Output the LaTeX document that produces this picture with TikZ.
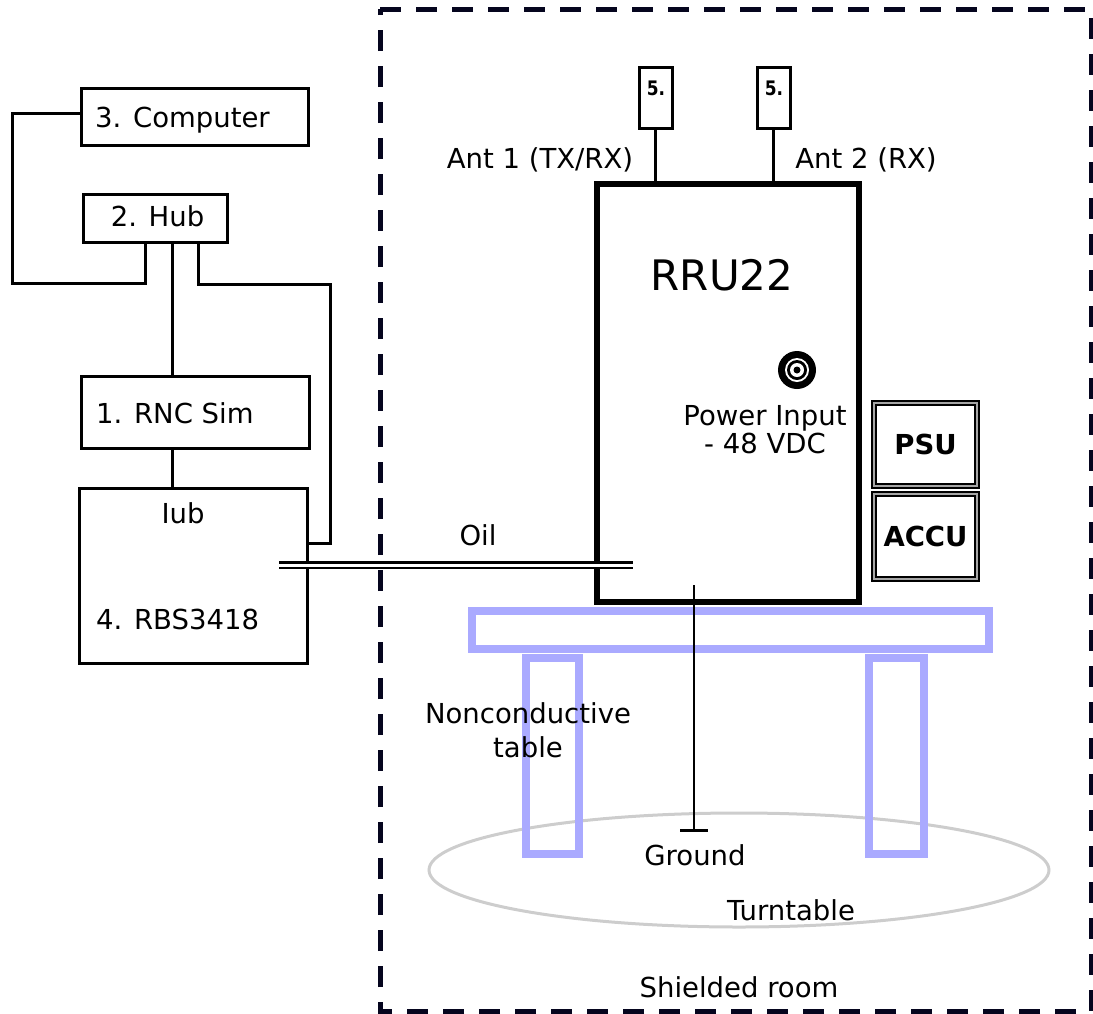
\documentclass[tikz,border=0pt]{standalone}
\usepackage{fontspec}
\setmainfont{DejaVu Sans}
\definecolor{tableblue}{RGB}{170,170,255}
\definecolor{turngray}{RGB}{205,205,205}
\definecolor{roomline}{RGB}{5,5,30}
\begin{document}
\begin{tikzpicture}[x=1pt,y=-1pt,
  txt/.style={font=\fontsize{27.5}{28}\selectfont, inner sep=0pt},
  box/.style={draw, line width=3pt, inner sep=0pt},
  conn/.style={line width=3pt},
  dbox/.style={draw, line width=2.2pt, inner sep=0pt, double=gray!70, double distance=1.2pt},
  tbl/.style={draw=tableblue, line width=8pt},
]
\useasboundingbox (0,0) rectangle (1093,1013);

% shielded room
\draw[roomline, line width=5pt, dash pattern=on 21pt off 15pt] (380,9) -- (1091,9) -- (1091,1011) -- (380,1011) -- cycle;

% turntable
\draw[turngray, line width=3pt] (739,870) ellipse [x radius=310pt, y radius=57pt];

% table
\draw[tbl] (472,611) rectangle (989,649);
\draw[tbl] (526,657.5) rectangle (579,853.5);
\draw[tbl] (869,657.5) rectangle (924,853.5);

% left boxes
\node[box, minimum width=227pt, minimum height=57pt] (comp) at (194.5,116.5) {};
\node[txt, anchor=base west] (comptxt) at (95,127) {3. Computer};
\node[box, minimum width=144pt, minimum height=48pt] (hub) at (155,218) {};
\node[txt, anchor=base] (hubtxt) at (157.5,226) {2. Hub};
\node[box, minimum width=228pt, minimum height=72pt] (rnc) at (195,412) {};
\node[txt, anchor=base west] (rnctxt) at (96,423) {1. RNC Sim};
\node[box, minimum width=228pt, minimum height=175pt] (rbs) at (193,575.5) {};
\node[txt, anchor=base] (iub) at (183,523) {Iub};
\node[txt, anchor=base west] (rbstxt) at (96,629) {4. RBS3418};

% connectors left
\coordinate (h1) at (172,0);
\coordinate (b1) at (12,113);
\coordinate (b2) at (12,283);
\coordinate (b3) at (145,283);
\coordinate (d1) at (198,284);
\coordinate (d2) at (330,284);
\coordinate (d3) at (330,543);
\draw[conn] (comp.west |- b1) -- (b1) -- (b2) -- (b3) -- (hub.south -| b3);
\draw[conn] (hub.south -| h1) -- (rnc.north -| h1);
\draw[conn] (rnc.south -| h1) -- (rbs.north -| h1);
\draw[conn] (hub.south -| d1) -- (d1) -- (d2) -- (d3) -- (rbs.east |- d3);

% RRU
\node[draw, line width=6pt, minimum width=262pt, minimum height=418pt, inner sep=0pt] (rru) at (728,393) {};
\node[font=\fontsize{42}{44}\selectfont, inner sep=0pt, anchor=base] (rrutxt) at (722,290) {RRU22};

% antennas
\node[box, minimum width=33pt, minimum height=61pt] (ant1) at (655.5,97.5) {};
\node[box, minimum width=33pt, minimum height=61pt] (ant2) at (773.5,97.5) {};
\node[font=\bfseries\fontsize{20}{21}\selectfont, inner sep=0pt, xscale=0.85] (a1t) at (656,88) {5.};
\node[font=\bfseries\fontsize{20}{21}\selectfont, inner sep=0pt, xscale=0.85] (a2t) at (774,88) {5.};
\draw[conn] (ant1.south) -- (ant1.south |- rru.north);
\draw[conn] (ant2.south) -- (ant2.south |- rru.north);
\node[txt, anchor=base] (ant1txt) at (540,168) {Ant 1 (TX/RX)};
\node[txt, anchor=base] (ant2txt) at (866,168) {Ant 2 (RX)};

% power input connector
\node[circle, fill, minimum size=38pt, inner sep=0pt] (pwr) at (797,370) {};
\node[circle, fill=white, minimum size=24pt, inner sep=0pt] (pwr2) at (pwr.center) {};
\node[circle, fill, minimum size=20pt, inner sep=0pt] (pwr3) at (pwr.center) {};
\node[circle, fill=white, minimum size=14pt, inner sep=0pt] (pwr4) at (pwr.center) {};
\node[circle, fill, minimum size=7pt, inner sep=0pt] (pwr5) at (pwr.center) {};
\node[txt, anchor=base, align=center, font=\fontsize{27.5}{27.5}\selectfont] (pwrtxt) at (765,453) {Power Input\\- 48 VDC};

% PSU / ACCU
\node[dbox, minimum width=103pt, minimum height=83pt] (psu) at (925.5,444.5) {};
\node[txt] (psutxt) at (psu.center) {\bfseries PSU};
\node[dbox, minimum width=103pt, minimum height=85pt] (accu) at (925.5,536.5) {};
\node[txt] (accutxt) at (accu.center) {\bfseries ACCU};

% Oil cable
\coordinate (oilA) at (279,565);
\coordinate (oilB) at (633,565);
\draw[line width=2.5pt, double=white, double distance=3pt] (oilA) -- (oilB);
\node[txt, anchor=base] (oiltxt) at (478,545) {Oil};

% ground
\coordinate (g1) at (694,585);
\coordinate (g2) at (694,830);
\coordinate (gl) at (680,830);
\coordinate (gr) at (708,830);
\draw[line width=2.5pt] (g1) -- (g2);
\draw[line width=3pt] (gl) -- (gr);
\node[txt, anchor=base] (gndtxt) at (695,865) {Ground};

% labels
\node[txt, anchor=base, align=center, font=\fontsize{27.5}{34}\selectfont] (nctxt) at (528,757) {Nonconductive\\table};
\node[txt, anchor=base] (tttxt) at (791,920) {Turntable};
\node[txt, anchor=base] (srtxt) at (739,997) {Shielded room};
\end{tikzpicture}
\end{document}
